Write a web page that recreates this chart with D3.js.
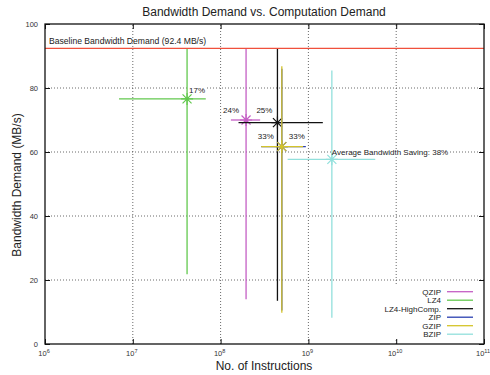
<!DOCTYPE html>
<html>
<head>
<meta charset="utf-8">
<script src="https://cdn.jsdelivr.net/npm/d3@7"></script>
<style>
  body { margin: 0; background: #fff; }
  text { font-family: "Liberation Sans", Arial, Helvetica, sans-serif; }
</style>
</head>
<body>
<div id="chart"></div>
<script>
const width = 490;
const height = 375;

// one entry per compressor
const methods = ["QZIP", "LZ4", "LZ4-HighComp.", "ZIP", "GZIP", "BZIP"];
const colors = ["#c45ec4", "#62c84e", "#111111", "#2a3fb0", "#d4c42a", "#92e0dc"];
const instr = [1.95e8, 4.15e7, 4.44e8, 4.98e8, 4.98e8, 1.85e9];
const instrLo = [1.31e8, 6.97e6, 1.6e8, 2.9e8, 2.9e8, 5.8e8];
const instrHi = [2.82e8, 6.78e7, 1.46e9, 9.35e8, 8.7e8, 5.77e9];
const bw = [70.0, 76.6, 69.2, 61.7, 61.7, 57.7];
const bwLo = [14.0, 21.8, 13.5, 10.5, 9.8, 8.2];
const bwHi = [92.4, 92.4, 92.4, 86.0, 86.8, 85.5];
const drawOrder = [1, 0, 2, 3, 4, 5];

const baseline = 92.4;
const savings = ["24%", "17%", "25%", "33%", "33%", "Average Bandwidth Saving: 38%"];

const xTicks = [1e6, 1e7, 1e8, 1e9, 1e10, 1e11];
const yTicks = [0, 20, 40, 60, 80, 100];

const svg = d3.select("#chart")
    .append("svg")
    .attr("width", width)
    .attr("height", height);

const x = d3.scaleLog().domain([1e6, 1e11]).range([45, 484]);
const y = d3.scaleLinear().domain([0, 100]).range([344, 24]);

// grid
const grid = svg.append("g")
    .attr("stroke", "#444")
    .attr("stroke-width", 0.8)
    .attr("stroke-dasharray", "1,2");
grid.selectAll(".gx")
    .data(xTicks.slice(1, -1))
    .enter().append("line")
    .attr("x1", d => x(d)).attr("x2", d => x(d))
    .attr("y1", y(0)).attr("y2", y(100));
grid.selectAll(".gy")
    .data(yTicks.slice(1, -1))
    .enter().append("line")
    .attr("x1", x(1e6)).attr("x2", x(1e11))
    .attr("y1", d => y(d)).attr("y2", d => y(d));

// layers: label backgrounds, marks, labels
const bgLayer = svg.append("g");
const marks = svg.append("g");
const labels = svg.append("g")
    .style("font-size", "8px")
    .attr("fill", "#222");

// label placement around each marker
const labelPos = [
    {dx: -7, dy: -7, anchor: "end"},
    {dx: 2, dy: -6, anchor: "start"},
    {dx: -5, dy: -10, anchor: "end"},
    {dx: 7, dy: -8, anchor: "start"},
    {dx: -8, dy: -8, anchor: "end"},
    {dx: 0, dy: -4, anchor: "start"}
];

const labelNodes = labels.selectAll("text")
    .data(d3.range(methods.length))
    .enter().append("text")
    .attr("x", i => x(instr[i]) + labelPos[i].dx)
    .attr("y", i => y(bw[i]) + labelPos[i].dy)
    .attr("text-anchor", i => labelPos[i].anchor)
    .text(i => savings[i]);

// white boxes behind labels interrupt the grid, like the original
labelNodes.each(function () {
    const b = this.getBBox();
    bgLayer.append("rect")
        .attr("x", b.x).attr("y", b.y + 1)
        .attr("width", b.width).attr("height", b.height - 2)
        .attr("fill", "#fff");
});

// baseline
svg.append("line")
    .attr("x1", x(1e6)).attr("x2", x(1e11))
    .attr("y1", y(baseline)).attr("y2", y(baseline))
    .attr("stroke", "#f0503c")
    .attr("stroke-width", 1.2);
svg.append("text")
    .attr("x", 49)
    .attr("y", y(baseline) - 4)
    .style("font-size", "8.6px")
    .attr("fill", "#222")
    .text("Baseline Bandwidth Demand (" + baseline + " MB/s)");

// error bars + star markers
function star(cx, cy, r) {
    const d = r * 0.75;
    return `M${cx - r},${cy}H${cx + r}M${cx},${cy - r}V${cy + r}` +
        `M${cx - d},${cy - d}L${cx + d},${cy + d}M${cx - d},${cy + d}L${cx + d},${cy - d}`;
}
drawOrder.forEach(i => {
    const g = marks.append("g").attr("stroke", colors[i]);
    g.append("line")
        .attr("x1", x(instrLo[i])).attr("x2", x(instrHi[i]))
        .attr("y1", y(bw[i])).attr("y2", y(bw[i]))
        .attr("stroke-width", 1.3);
    g.append("line")
        .attr("x1", x(instr[i])).attr("x2", x(instr[i]))
        .attr("y1", y(bwLo[i])).attr("y2", y(bwHi[i]))
        .attr("stroke-width", 1.3);
    g.append("path")
        .attr("d", star(x(instr[i]), y(bw[i]), 6))
        .attr("stroke-width", 1.2)
        .attr("fill", "none");
});

// legend
const legend = svg.append("g");
legend.append("rect")
    .attr("x", 378).attr("y", 286)
    .attr("width", 103).attr("height", 54)
    .attr("fill", "#fff");
const rows = legend.selectAll(".row")
    .data(d3.range(methods.length))
    .enter().append("g")
    .attr("transform", i => `translate(0,${291.7 + i * 8.5})`);
rows.append("text")
    .attr("x", 441).attr("y", 3)
    .attr("text-anchor", "end")
    .style("font-size", "8px")
    .attr("fill", "#222")
    .text(i => methods[i]);
rows.append("line")
    .attr("x1", 447).attr("x2", 473)
    .attr("stroke", i => colors[i])
    .attr("stroke-width", 1.3);

// axes, ticks pointing inwards on all sides
const axB = svg.append("g").attr("transform", `translate(0,${y(0)})`)
    .call(d3.axisBottom(x).tickValues(xTicks).tickSizeInner(-5).tickSizeOuter(0).tickFormat(""));
const axT = svg.append("g").attr("transform", `translate(0,${y(100)})`)
    .call(d3.axisTop(x).tickValues(xTicks).tickSizeInner(-5).tickSizeOuter(0).tickFormat(""));
const axL = svg.append("g").attr("transform", `translate(${x(1e6)},0)`)
    .call(d3.axisLeft(y).tickValues(yTicks).tickSizeInner(-5).tickSizeOuter(0).tickFormat(""));
const axR = svg.append("g").attr("transform", `translate(${x(1e11)},0)`)
    .call(d3.axisRight(y).tickValues(yTicks).tickSizeInner(-5).tickSizeOuter(0).tickFormat(""));
[axB, axT, axL, axR].forEach(a => {
    a.select(".domain").remove();
    a.selectAll("line").attr("stroke", "#111");
});
svg.append("rect")
    .attr("x", x(1e6)).attr("y", y(100))
    .attr("width", x(1e11) - x(1e6)).attr("height", y(0) - y(100))
    .attr("fill", "none")
    .attr("stroke", "#111")
    .attr("stroke-width", 1.3);

// tick labels
svg.append("g").selectAll("text")
    .data(yTicks)
    .enter().append("text")
    .attr("x", 38).attr("y", d => y(d) + 2.5)
    .attr("text-anchor", "end")
    .style("font-size", "7.5px")
    .attr("fill", "#333")
    .text(d => d);
const xl = svg.append("g").selectAll("text")
    .data(xTicks)
    .enter().append("text")
    .attr("x", d => x(d) - 1)
    .attr("y", 356)
    .attr("text-anchor", "middle")
    .style("font-size", "7.5px")
    .attr("fill", "#333");
xl.append("tspan").text("10");
xl.append("tspan")
    .attr("dy", -3.5)
    .style("font-size", "5.5px")
    .text(d => Math.round(Math.log10(d)));

// titles
svg.append("text")
    .attr("x", 264).attr("y", 16)
    .attr("text-anchor", "middle")
    .style("font-size", "12px")
    .attr("fill", "#222")
    .text("Bandwidth Demand vs. Computation Demand");
svg.append("text")
    .attr("x", 264).attr("y", 370)
    .attr("text-anchor", "middle")
    .style("font-size", "12px")
    .attr("fill", "#222")
    .text("No. of Instructions");
svg.append("text")
    .attr("transform", "translate(21,185) rotate(-90)")
    .attr("text-anchor", "middle")
    .style("font-size", "12px")
    .attr("fill", "#222")
    .text("Bandwidth Demand (MB/s)");
</script>
</body>
</html>
